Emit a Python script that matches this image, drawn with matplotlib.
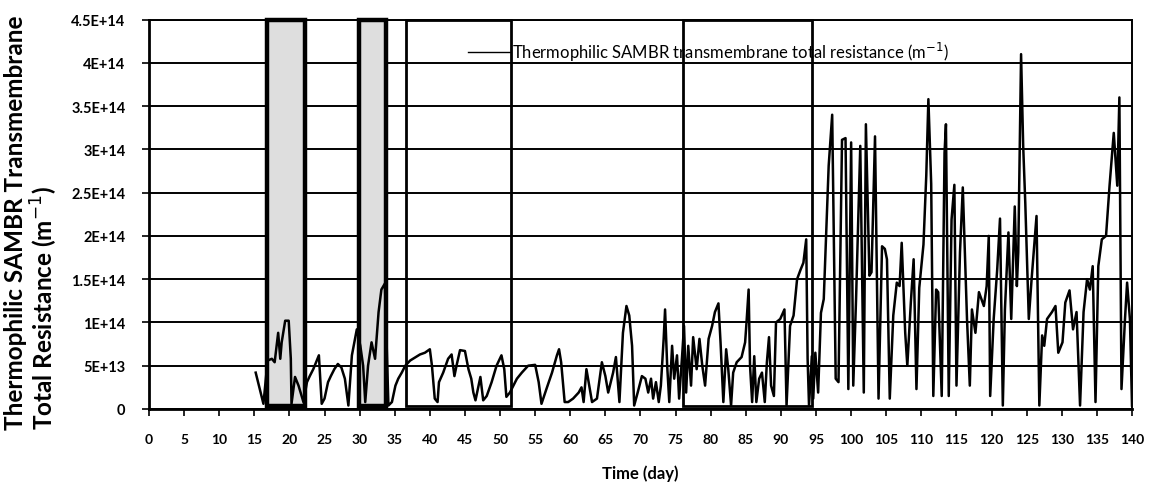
import matplotlib
matplotlib.use("Agg")
import matplotlib.pyplot as plt
from matplotlib.patches import Rectangle

plt.rcParams['font.family'] = ['Lato', 'DejaVu Sans']

# ---- data (resistance in units of 1e13 m^-1) ----
days = [15.2, 16.3, 16.9, 17.5, 17.9, 18.4, 18.7, 18.9, 19.4, 19.9, 20.2, 20.3, 20.8, 21.3, 22.0,
        22.5, 22.9, 23.4, 23.8, 24.2, 24.6, 25.0, 25.5, 25.9, 26.4, 26.9, 27.4, 27.9, 28.4, 28.9,
        29.6, 30.1, 30.5, 30.8, 31.2, 31.7, 32.2, 32.7, 33.1, 33.6, 34.1, 34.6, 35.1, 35.5, 36.0,
        36.5, 37.2, 37.6, 38.6, 39.3, 40.0, 40.3, 40.7, 41.1, 41.3, 41.9, 42.6, 43.1, 43.5, 43.8,
        44.3, 45.0, 45.5, 45.9, 46.2, 46.5, 47.2, 47.6, 48.1, 48.8, 49.5, 50.2, 50.6, 50.9, 51.4,
        51.9, 52.4, 53.1, 54.0, 55.0, 55.5, 55.9, 56.6, 57.4, 58.1, 58.4, 58.7, 59.2, 59.7, 60.4,
        61.2, 61.6, 61.9, 62.3, 62.7, 63.1, 63.8, 64.5, 65.0, 65.4, 66.1, 66.5, 67.0, 67.5, 68.0,
        68.4, 68.8, 69.1, 69.6, 70.2, 70.7, 71.1, 71.5, 71.8, 72.2, 72.6, 72.9, 73.3, 73.5, 73.8,
        74.1, 74.5, 74.8, 75.2, 75.5, 75.9, 76.2, 76.5, 76.8, 77.2, 77.5, 78.0, 78.4, 78.8, 79.2,
        79.7, 80.2, 80.6, 81.1, 81.4, 81.8, 82.2, 82.5, 82.9, 83.2, 83.7, 84.4, 84.9, 85.1, 85.4,
        85.6, 85.9, 86.2, 86.5, 86.9, 87.3, 87.7, 88.0, 88.3, 88.6, 89.0, 89.3, 89.9, 90.5, 90.8,
        91.3, 91.8, 92.3, 92.8, 93.2, 93.6, 93.8, 94.0, 94.4, 94.6, 94.9, 95.3, 95.7, 96.1, 96.8,
        97.3, 97.8, 98.2, 98.7, 99.2, 99.6, 100.0, 100.3, 100.7, 101.3, 101.8, 102.1, 102.6, 102.9,
        103.4, 103.9, 104.4, 104.8, 105.1, 105.5, 106.0, 106.5, 106.9, 107.2, 107.7, 108.0, 108.5,
        108.9, 109.3, 109.7, 110.3, 110.7, 111.0, 111.4, 111.7, 112.1, 112.4, 112.9, 113.3, 113.5,
        113.9, 114.3, 114.7, 115.0, 115.5, 115.9, 116.5, 116.9, 117.2, 117.7, 118.2, 118.9, 119.3,
        119.6, 119.8, 120.3, 120.8, 121.2, 121.6, 121.9, 122.4, 122.8, 123.3, 123.6, 123.8, 124.2,
        124.5, 124.8, 125.3, 125.7, 126.4, 126.8, 127.2, 127.5, 127.9, 128.6, 129.1, 129.5, 130.1,
        130.5, 131.1, 131.6, 132.1, 132.6, 133.1, 133.6, 134.0, 134.4, 134.8, 135.2, 135.7, 136.3,
        136.8, 137.4, 137.9, 138.2, 138.5, 139.0, 139.3, 139.7, 140.0]
resistance_e13 = [4.2, 0.6, 5.6, 5.8, 5.4, 8.8, 5.8, 7.7, 10.2, 10.2, 5.8, 0.6, 3.7, 2.7, 0.8,
                  3.1, 3.8, 4.6, 5.4, 6.2, 0.6, 1.2, 3.1, 3.8, 4.6, 5.2, 4.8, 3.5, 0.4, 6.2,
                  9.2, 7.3, 5.0, 0.8, 5.0, 7.7, 5.8, 11.2, 13.8, 14.5, 0.4, 0.8, 2.7, 3.5, 4.2,
                  5.0, 5.6, 5.8, 6.3, 6.5, 6.9, 5.0, 1.2, 0.8, 3.1, 4.2, 5.8, 6.3, 3.8, 5.0,
                  6.8, 6.7, 4.6, 3.5, 1.9, 1.0, 3.7, 1.0, 1.5, 3.1, 5.0, 6.2, 4.6, 1.4, 1.9,
                  2.7, 3.5, 4.2, 5.0, 5.1, 3.1, 0.6, 2.3, 4.2, 6.2, 6.9, 5.4, 0.8, 0.8, 1.2,
                  1.9, 2.5, 0.8, 4.6, 2.7, 0.8, 1.2, 5.4, 3.8, 1.9, 4.2, 6.0, 0.8, 8.8, 11.9,
                  10.8, 7.3, 0.4, 1.9, 3.8, 3.5, 1.9, 3.5, 1.2, 3.1, 0.8, 2.7, 8.1, 11.5, 5.0,
                  0.8, 7.3, 3.5, 6.2, 1.2, 5.8, 9.6, 1.9, 7.3, 2.7, 8.3, 4.6, 8.1, 5.0, 2.7,
                  8.1, 9.6, 11.2, 12.2, 7.7, 0.8, 6.9, 4.6, 0.4, 4.2, 5.4, 6.0, 7.7, 10.0, 13.8,
                  5.0, 0.8, 6.1, 0.8, 3.5, 4.2, 0.8, 5.4, 8.3, 2.7, 1.5, 10.0, 10.4, 11.5, 0.4,
                  9.6, 10.8, 15.0, 16.1, 16.9, 19.6, 5.8, 0.4, 6.1, 1.2, 6.5, 1.9, 11.1, 12.7, 28.1,
                  34.0, 3.5, 3.1, 31.1, 31.3, 2.3, 30.8, 2.7, 12.7, 30.4, 1.9, 32.9, 15.4, 15.8,
                  31.5, 1.2, 18.8, 18.5, 17.3, 1.2, 10.8, 14.6, 14.2, 19.2, 8.8, 5.0, 12.3,
                  17.3, 2.3, 14.0, 19.0, 27.0, 35.8, 26.0, 1.5, 13.8, 13.5, 1.5, 29.6, 32.9,
                  1.5, 21.9, 25.9, 2.7, 18.1, 25.6, 10.4, 2.7, 11.5, 8.8, 13.5, 11.9, 14.2,
                  20.0, 1.5, 10.4, 16.1, 22.0, 0.4, 11.5, 20.4, 10.4, 23.4, 14.2, 18.1, 41.0,
                  30.4, 23.8, 10.4, 15.0, 22.3, 0.4, 8.5, 7.3, 10.4, 11.2, 11.9, 6.5, 7.7,
                  12.3, 13.7, 9.2, 11.2, 0.4, 11.2, 15.0, 13.8, 16.5, 0.8, 16.5, 19.6, 20.0,
                  25.8, 31.9, 25.8, 36.0, 2.3, 10.4, 14.6, 10.4, 0.4]
resistance = [v * 1e13 for v in resistance_e13]

# highlighted periods (day start, day end)
shaded_periods = [(16.8, 22.2), (29.9, 33.8)]
open_periods = [(36.6, 51.5), (76.1, 94.4)]

x_ticks = list(range(0, 145, 5))
y_ticks = [0, 5e13, 1e14, 1.5e14, 2e14, 2.5e14, 3e14, 3.5e14, 4e14, 4.5e14]
y_tick_labels = ['0', '5E+13', '1E+14', '1.5E+14', '2E+14', '2.5E+14', '3E+14', '3.5E+14', '4E+14', '4.5E+14']

legend_label = 'Thermophilic SAMBR transmembrane total resistance (m$^{-1}$)'
y_label = 'Thermophilic SAMBR Transmembrane\nTotal Resistance (m$^{-1}$)'
x_label = 'Time (day)'

# ---- figure ----
fig = plt.figure(figsize=(11.53, 4.89), dpi=100)
ax = fig.add_axes([0.1292, 0.1616, 0.8526, 0.7964])

ax.set_xlim(0, 140)
ax.set_ylim(0, 4.5e14)

for (a, b) in shaded_periods:
    ax.add_patch(Rectangle((a, 0.3e13), b - a, 4.5e14 - 0.3e13, facecolor='#dedede',
                           edgecolor='black', linewidth=3.2, zorder=2, clip_on=False))
for (a, b) in open_periods:
    ax.add_patch(Rectangle((a, 0.3e13), b - a, 4.5e14 - 0.3e13, facecolor='none',
                           edgecolor='black', linewidth=2.0, zorder=2, clip_on=False))

ax.plot(days, resistance, color='black', linewidth=1.8, zorder=3, label=legend_label)

ax.set_xticks(x_ticks)
ax.set_xticklabels([str(t) for t in x_ticks], fontsize=10, fontweight='bold')
ax.set_yticks(y_ticks)
ax.set_yticklabels(y_tick_labels, fontsize=10.5, fontweight='bold')
ax.tick_params(axis='x', direction='out', length=5, width=1.2, pad=12)
ax.tick_params(axis='y', direction='out', length=5, width=1.2, pad=12)

ax.yaxis.grid(True, color='black', linewidth=1.4)
ax.set_axisbelow(True)
for s in ax.spines.values():
    s.set_linewidth(1.4)
    s.set_color('black')
ax.spines['left'].set_linewidth(2.0)
ax.spines['bottom'].set_linewidth(2.0)

ax.set_ylabel(y_label, fontsize=17.5, fontweight='bold', linespacing=1.08,
              multialignment='left')
ax.yaxis.set_label_coords(-0.090, 0.48)
ax.set_xlabel(x_label, fontsize=12, fontweight='bold', labelpad=14)

leg = ax.legend(loc='upper left', bbox_to_anchor=(0.318, 0.965), frameon=False,
                fontsize=12, handlelength=2.5, handletextpad=0.1, borderaxespad=0)
leg.set_zorder(1)
for line in leg.get_lines():
    line.set_linewidth(1.0)

fig.savefig('out.png', dpi=100)
